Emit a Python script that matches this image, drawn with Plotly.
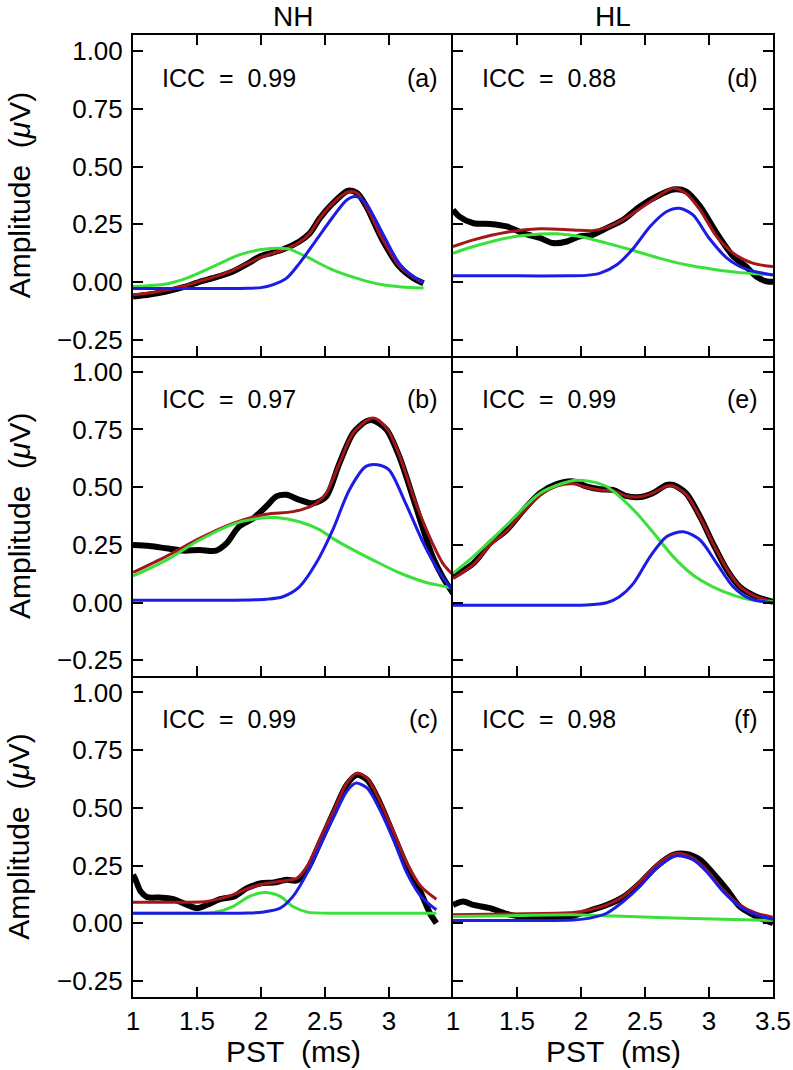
import plotly.graph_objects as go
from plotly.subplots import make_subplots

# ---------------- data ----------------
# panel (a) NH
a_black_x = [1.0, 1.13, 1.26, 1.40, 1.52, 1.65, 1.78, 1.90, 1.99, 2.08, 2.17, 2.30, 2.38, 2.46, 2.56, 2.68, 2.75, 2.82, 2.95, 3.08, 3.19, 3.27]
a_black_y = [-0.064, -0.055, -0.042, -0.022, 0.0, 0.02, 0.045, 0.08, 0.11, 0.125, 0.14, 0.175, 0.21, 0.276, 0.34, 0.395, 0.385, 0.33, 0.18, 0.066, 0.016, -0.006]
a_red_x = [1.0, 1.13, 1.26, 1.40, 1.52, 1.65, 1.78, 1.90, 1.99, 2.08, 2.17, 2.30, 2.38, 2.46, 2.56, 2.68, 2.75, 2.82, 2.95, 3.08, 3.19, 3.27]
a_red_y = [-0.056, -0.048, -0.036, -0.018, 0.003, 0.024, 0.05, 0.082, 0.105, 0.122, 0.138, 0.172, 0.21, 0.276, 0.34, 0.39, 0.385, 0.33, 0.185, 0.07, 0.02, -0.004]
a_blue_x = [1.0, 1.5, 1.9, 2.0, 2.09, 2.2, 2.3, 2.43, 2.56, 2.67, 2.74, 2.82, 2.95, 3.08, 3.19, 3.27]
a_blue_y = [-0.029, -0.029, -0.028, -0.025, -0.013, 0.016, 0.08, 0.18, 0.28, 0.355, 0.37, 0.34, 0.21, 0.08, 0.023, -0.003]
a_green_x = [1.0, 1.26, 1.42, 1.625, 1.83, 1.99, 2.12, 2.22, 2.35, 2.56, 2.77, 2.95, 3.1, 3.27]
a_green_y = [-0.02, -0.009, 0.016, 0.066, 0.117, 0.139, 0.146, 0.142, 0.11, 0.052, 0.012, -0.013, -0.022, -0.027]

# panel (b) NH
b_black_x = [1.0, 1.13, 1.26, 1.39, 1.52, 1.65, 1.73, 1.83, 1.94, 2.04, 2.12, 2.20, 2.30, 2.41, 2.51, 2.61, 2.72, 2.82, 2.875, 2.98, 3.08, 3.21, 3.34, 3.42, 3.5]
b_black_y = [0.249, 0.245, 0.235, 0.225, 0.228, 0.225, 0.256, 0.33, 0.365, 0.416, 0.46, 0.467, 0.445, 0.43, 0.46, 0.60, 0.735, 0.785, 0.79, 0.75, 0.633, 0.416, 0.2, 0.11, 0.04]
b_red_x = [1.0, 1.26, 1.52, 1.78, 2.04, 2.25, 2.41, 2.51, 2.61, 2.72, 2.875, 2.98, 3.08, 3.21, 3.34, 3.42, 3.5]
b_red_y = [0.13, 0.2, 0.278, 0.343, 0.383, 0.394, 0.423, 0.474, 0.60, 0.735, 0.80, 0.757, 0.64, 0.43, 0.256, 0.17, 0.12]
b_blue_x = [1.0, 1.5, 1.9, 2.04, 2.17, 2.30, 2.43, 2.56, 2.69, 2.82, 2.91, 3.0, 3.13, 3.27, 3.40, 3.5]
b_blue_y = [0.01, 0.01, 0.011, 0.014, 0.025, 0.068, 0.17, 0.314, 0.488, 0.59, 0.597, 0.575, 0.43, 0.256, 0.126, 0.05]
b_green_x = [1.0, 1.26, 1.52, 1.78, 1.99, 2.12, 2.30, 2.46, 2.56, 2.72, 2.875, 3.08, 3.29, 3.45, 3.5]
b_green_y = [0.115, 0.184, 0.271, 0.339, 0.365, 0.368, 0.35, 0.315, 0.278, 0.228, 0.184, 0.129, 0.087, 0.068, 0.06]

# panel (c) NH
c_black_x = [1.0, 1.02, 1.06, 1.11, 1.21, 1.31, 1.42, 1.5, 1.58, 1.68, 1.79, 1.89, 2.0, 2.1, 2.2, 2.28, 2.36, 2.47, 2.57, 2.67, 2.75, 2.83, 2.93, 3.04, 3.14, 3.25, 3.32, 3.37]
c_black_y = [0.21, 0.188, 0.137, 0.113, 0.111, 0.105, 0.08, 0.065, 0.08, 0.104, 0.116, 0.152, 0.173, 0.176, 0.188, 0.185, 0.231, 0.361, 0.484, 0.60, 0.643, 0.621, 0.52, 0.376, 0.246, 0.13, 0.043, 0.0]
c_red_x = [1.0, 1.3, 1.56, 1.63, 1.78, 1.94, 2.05, 2.2, 2.28, 2.36, 2.47, 2.57, 2.67, 2.75, 2.83, 2.93, 3.04, 3.14, 3.25, 3.37]
c_red_y = [0.091, 0.091, 0.093, 0.10, 0.123, 0.159, 0.173, 0.185, 0.195, 0.246, 0.376, 0.49, 0.607, 0.65, 0.628, 0.527, 0.39, 0.26, 0.159, 0.104]
c_blue_x = [1.0, 1.5, 1.9, 2.02, 2.15, 2.25, 2.36, 2.47, 2.57, 2.67, 2.74, 2.83, 2.93, 3.04, 3.14, 3.25, 3.37]
c_blue_y = [0.043, 0.043, 0.044, 0.048, 0.065, 0.116, 0.217, 0.347, 0.462, 0.571, 0.607, 0.585, 0.49, 0.354, 0.217, 0.116, 0.058]
c_green_x = [1.0, 1.5, 1.63, 1.78, 1.91, 2.03, 2.15, 2.25, 2.36, 2.6, 3.0, 3.37]
c_green_y = [0.043, 0.043, 0.046, 0.072, 0.116, 0.133, 0.116, 0.072, 0.048, 0.043, 0.043, 0.043]

# panel (d) HL
d_black_x = [1.0, 1.05, 1.16, 1.29, 1.42, 1.55, 1.68, 1.78, 1.89, 1.99, 2.09, 2.2, 2.33, 2.46, 2.59, 2.72, 2.82, 2.93, 3.06, 3.19, 3.29, 3.37, 3.45, 3.5]
d_black_y = [0.312, 0.283, 0.254, 0.251, 0.24, 0.21, 0.19, 0.168, 0.175, 0.197, 0.204, 0.233, 0.269, 0.327, 0.37, 0.40, 0.392, 0.327, 0.211, 0.11, 0.066, 0.023, 0.002, 0.0]
d_red_x = [1.0, 1.16, 1.42, 1.68, 1.94, 2.09, 2.25, 2.41, 2.56, 2.72, 2.82, 2.93, 3.06, 3.19, 3.34, 3.5]
d_red_y = [0.153, 0.182, 0.215, 0.23, 0.225, 0.222, 0.247, 0.298, 0.355, 0.406, 0.384, 0.312, 0.197, 0.124, 0.081, 0.066]
d_blue_x = [1.0, 1.5, 1.9, 2.04, 2.15, 2.28, 2.41, 2.54, 2.67, 2.77, 2.875, 3.0, 3.14, 3.29, 3.5]
d_blue_y = [0.026, 0.026, 0.026, 0.028, 0.038, 0.074, 0.146, 0.24, 0.305, 0.319, 0.29, 0.19, 0.103, 0.055, 0.03]
d_green_x = [1.0, 1.16, 1.42, 1.68, 1.81, 1.99, 2.2, 2.41, 2.61, 2.82, 3.03, 3.24, 3.5]
d_green_y = [0.124, 0.153, 0.19, 0.207, 0.208, 0.197, 0.168, 0.136, 0.103, 0.074, 0.055, 0.04, 0.03]

# panel (e) HL
e_black_x = [1.0, 1.16, 1.29, 1.42, 1.55, 1.68, 1.81, 1.94, 2.04, 2.15, 2.25, 2.35, 2.46, 2.56, 2.67, 2.72, 2.82, 2.93, 3.03, 3.14, 3.24, 3.37, 3.5]
e_black_y = [0.112, 0.17, 0.257, 0.314, 0.40, 0.474, 0.513, 0.525, 0.503, 0.491, 0.488, 0.462, 0.457, 0.474, 0.51, 0.51, 0.474, 0.372, 0.257, 0.141, 0.068, 0.025, 0.003]
e_red_x = [1.0, 1.16, 1.29, 1.42, 1.55, 1.68, 1.81, 1.94, 2.04, 2.15, 2.25, 2.35, 2.46, 2.56, 2.67, 2.72, 2.82, 2.93, 3.03, 3.14, 3.24, 3.37, 3.5]
e_red_y = [0.104, 0.165, 0.25, 0.31, 0.395, 0.465, 0.505, 0.515, 0.5, 0.488, 0.485, 0.462, 0.458, 0.474, 0.505, 0.505, 0.47, 0.37, 0.257, 0.145, 0.07, 0.025, 0.004]
e_blue_x = [1.0, 1.5, 1.9, 2.04, 2.2, 2.3, 2.41, 2.54, 2.67, 2.8, 2.93, 3.06, 3.19, 3.32, 3.5]
e_blue_y = [-0.012, -0.012, -0.012, -0.011, -0.001, 0.025, 0.083, 0.199, 0.286, 0.307, 0.271, 0.17, 0.068, 0.017, -0.001]
e_green_x = [1.0, 1.16, 1.42, 1.68, 1.94, 2.07, 2.2, 2.33, 2.46, 2.59, 2.72, 2.875, 3.03, 3.19, 3.34, 3.5]
e_green_y = [0.126, 0.2, 0.336, 0.474, 0.529, 0.525, 0.503, 0.445, 0.372, 0.286, 0.199, 0.119, 0.068, 0.032, 0.01, 0.003]

# panel (f) HL
f_black_x = [1.0, 1.08, 1.16, 1.29, 1.42, 1.55, 1.68, 1.81, 1.94, 2.07, 2.2, 2.33, 2.46, 2.59, 2.72, 2.82, 2.93, 3.03, 3.14, 3.24, 3.37, 3.5]
f_black_y = [0.079, 0.094, 0.079, 0.065, 0.04, 0.026, 0.022, 0.025, 0.032, 0.055, 0.079, 0.113, 0.173, 0.246, 0.296, 0.30, 0.275, 0.217, 0.145, 0.072, 0.029, 0.0]
f_red_x = [1.0, 1.42, 1.94, 2.07, 2.2, 2.33, 2.46, 2.59, 2.745, 2.875, 2.98, 3.11, 3.24, 3.37, 3.5]
f_red_y = [0.036, 0.04, 0.046, 0.058, 0.079, 0.116, 0.18, 0.253, 0.303, 0.282, 0.231, 0.145, 0.079, 0.043, 0.026]
f_blue_x = [1.0, 1.5, 1.94, 2.07, 2.2, 2.33, 2.46, 2.59, 2.745, 2.875, 2.98, 3.11, 3.24, 3.37, 3.5]
f_blue_y = [0.012, 0.012, 0.014, 0.022, 0.043, 0.094, 0.159, 0.238, 0.292, 0.275, 0.224, 0.137, 0.072, 0.036, 0.017]
f_green_x = [1.0, 1.5, 1.94, 2.2, 2.72, 3.5]
f_green_y = [0.029, 0.033, 0.036, 0.032, 0.022, 0.012]

icc_values = ["0.99", "0.97", "0.99", "0.88", "0.99", "0.98"]
panel_letters = ["a", "b", "c", "d", "e", "f"]
column_titles = ["NH", "HL"]
y_tick_vals = [-0.25, 0.0, 0.25, 0.5, 0.75, 1.0]
y_tick_text = ["\u22120.25", "0.00", "0.25", "0.50", "0.75", "1.00"]
x_tick_vals = [1, 1.5, 2, 2.5, 3, 3.5]
x_tick_text_left = ["1", "1.5", "2", "2.5", "3", ""]
x_tick_text_right = ["1", "1.5", "2", "2.5", "3", "3.5"]

# ---------------- figure ----------------
FONT = "Liberation Sans, Arial, sans-serif"
C_BLACK = "#000000"
C_RED = "#a3161a"
C_BLUE = "#1c1ce6"
C_GREEN = "#3be03b"

panels = [
    ("a", 1, 1, (a_black_x, a_black_y), (a_red_x, a_red_y), (a_blue_x, a_blue_y), (a_green_x, a_green_y)),
    ("b", 2, 1, (b_black_x, b_black_y), (b_red_x, b_red_y), (b_blue_x, b_blue_y), (b_green_x, b_green_y)),
    ("c", 3, 1, (c_black_x, c_black_y), (c_red_x, c_red_y), (c_blue_x, c_blue_y), (c_green_x, c_green_y)),
    ("d", 1, 2, (d_black_x, d_black_y), (d_red_x, d_red_y), (d_blue_x, d_blue_y), (d_green_x, d_green_y)),
    ("e", 2, 2, (e_black_x, e_black_y), (e_red_x, e_red_y), (e_blue_x, e_blue_y), (e_green_x, e_green_y)),
    ("f", 3, 2, (f_black_x, f_black_y), (f_red_x, f_red_y), (f_blue_x, f_blue_y), (f_green_x, f_green_y)),
]

fig = make_subplots(rows=3, cols=2, horizontal_spacing=0, vertical_spacing=0)

for letter, r, c, blk, red, blu, grn in panels:
    for (xs, ys), color, w in [(blk, C_BLACK, 6), (red, C_RED, 3), (grn, C_GREEN, 3), (blu, C_BLUE, 3)]:
        fig.add_trace(go.Scatter(x=xs, y=ys, mode="lines",
                                 line=dict(color=color, width=w, shape="spline", smoothing=0.8),
                                 showlegend=False, hoverinfo="skip", cliponaxis=True), row=r, col=c)

for r in (1, 2, 3):
    for c in (1, 2):
        fig.update_xaxes(
            range=[1, 3.5], tickvals=x_tick_vals,
            ticktext=(x_tick_text_left if c == 1 else x_tick_text_right),
            showticklabels=(r == 3), ticks="inside", ticklen=10, tickwidth=2, tickcolor="black",
            showline=True, linewidth=2, linecolor="black", automargin=False,
            mirror=("ticks" if r == 1 else False), showgrid=False, zeroline=False,
            tickfont=dict(family=FONT, size=26, color="black"), ticklabelstandoff=0,
            row=r, col=c)
        fig.update_yaxes(
            range=[-0.32, 1.07], tickvals=y_tick_vals, ticktext=y_tick_text,
            showticklabels=(c == 1), ticks="inside", ticklen=10, tickwidth=2, tickcolor="black",
            showline=True, linewidth=2, linecolor="black", automargin=False,
            mirror=("ticks" if c == 2 else False), showgrid=False, zeroline=False,
            tickfont=dict(family=FONT, size=26, color="black"), ticklabelstandoff=3,
            row=r, col=c)

annotations = []
axis_ids = {(1, 1): "", (1, 2): "2", (2, 1): "3", (2, 2): "4", (3, 1): "5", (3, 2): "6"}
for i, (letter, r, c, *_rest) in enumerate(panels):
    aid = axis_ids[(r, c)]
    annotations.append(dict(text="ICC\u00a0\u00a0=\u00a0\u00a0" + icc_values[i], xref=f"x{aid} domain", yref=f"y{aid} domain",
                            x=0.084, y=0.866, xanchor="left", yanchor="middle", showarrow=False,
                            font=dict(family=FONT, size=25, color="black")))
    annotations.append(dict(text="(" + panel_letters[i] + ")", xref=f"x{aid} domain", yref=f"y{aid} domain",
                            x=0.959, y=0.866, xanchor="right", yanchor="middle", showarrow=False,
                            font=dict(family=FONT, size=25, color="black")))

for c, title in enumerate(column_titles):
    cx = 0.25 + 0.5 * c
    annotations.append(dict(text=title, xref="paper", yref="paper", x=cx, y=1 + (35 - 16) / 962,
                            xanchor="center", yanchor="middle", showarrow=False,
                            font=dict(family=FONT, size=28, color="black")))
    annotations.append(dict(text="PST\u00a0\u00a0(ms)", xref="paper", yref="paper", x=cx, y=-(1051 - 997) / 962,
                            xanchor="center", yanchor="middle", showarrow=False,
                            font=dict(family=FONT, size=30, color="black")))

for r in range(3):
    cy = 1 - (r + 0.5) / 3
    annotations.append(dict(text="Amplitude\u00a0\u00a0(<i>\u03bc</i>V)", xref="paper", yref="paper",
                            x=(19 - 133) / 640, y=cy, xanchor="center", yanchor="middle", textangle=-90,
                            showarrow=False, font=dict(family=FONT, size=30, color="black")))

fig.update_layout(
    width=793, height=1070,
    margin=dict(l=133, r=20, t=35, b=73, autoexpand=False),
    paper_bgcolor="white", plot_bgcolor="white",
    annotations=annotations,
    showlegend=False,
)

# remove the browser's default 8 px body margin so the figure sits at the page origin
fig.write_html("out.html", config={"displayModeBar": False},
               post_script="document.body.style.margin='0px';document.body.style.padding='0px';")
